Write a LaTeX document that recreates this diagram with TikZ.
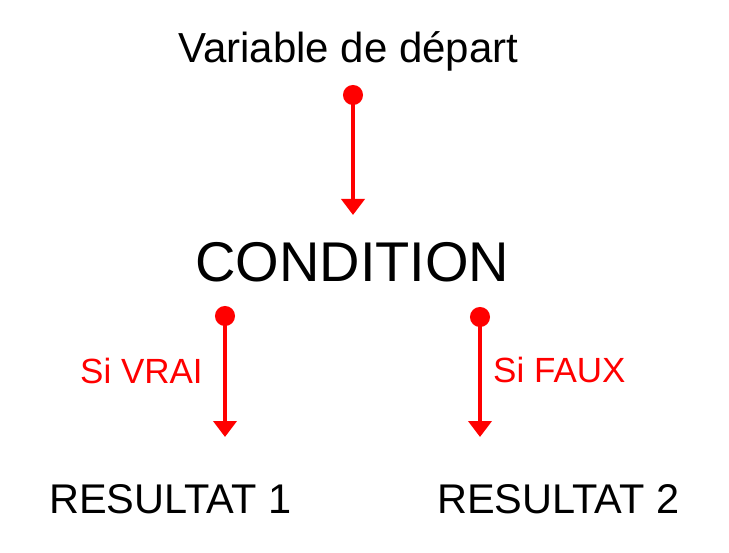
\documentclass[tikz,border=0pt]{standalone}
\usepackage{fontspec}
\setmainfont{Liberation Sans}
\usetikzlibrary{arrows.meta}

\begin{document}
\begin{tikzpicture}[x=1bp, y=-1bp, flow/.style = {red, line width=4bp, {Circle[length=20bp]}-{Triangle[width=23bp,length=16bp]}}]
	\tikzset{txt/.style={inner sep=0pt, anchor=base west}}
	\tikzset{cond/.style={red, inner sep=0pt, anchor=base west, font=\fontsize{35bp}{40bp}\selectfont}}

	\useasboundingbox (0,0) rectangle (729,553);

	% Textes
	\node[txt, font=\fontsize{42bp}{50bp}\selectfont] (var) at (178,63) {Variable de départ};
	\node[txt, font=\fontsize{56bp}{62bp}\selectfont] (test) at (195,281.5) {CONDITION};
	\node[txt, font=\fontsize{41.5bp}{50bp}\selectfont] (res1) at (49,513) {RESULTAT 1};
	\node[txt, font=\fontsize{41.5bp}{50bp}\selectfont] (res2) at (437,513) {RESULTAT 2};

	% Fleches
	\coordinate (var0) at (353,85);
	\coordinate (test0) at (353,215);
	\coordinate (vrai0) at (225,306);
	\coordinate (res10) at (225,437);
	\coordinate (faux0) at (480,307);
	\coordinate (res20) at (480,437);

	\draw [flow] (var0) -- (test0);
	\draw [flow] (vrai0) -- (res10);
	\draw [flow] (faux0) -- (res20);

	\node[cond] (vrai) at (80,383) {Si VRAI};
	\node[cond] (faux) at (493,382) {Si FAUX};

\end{tikzpicture}
\end{document}
